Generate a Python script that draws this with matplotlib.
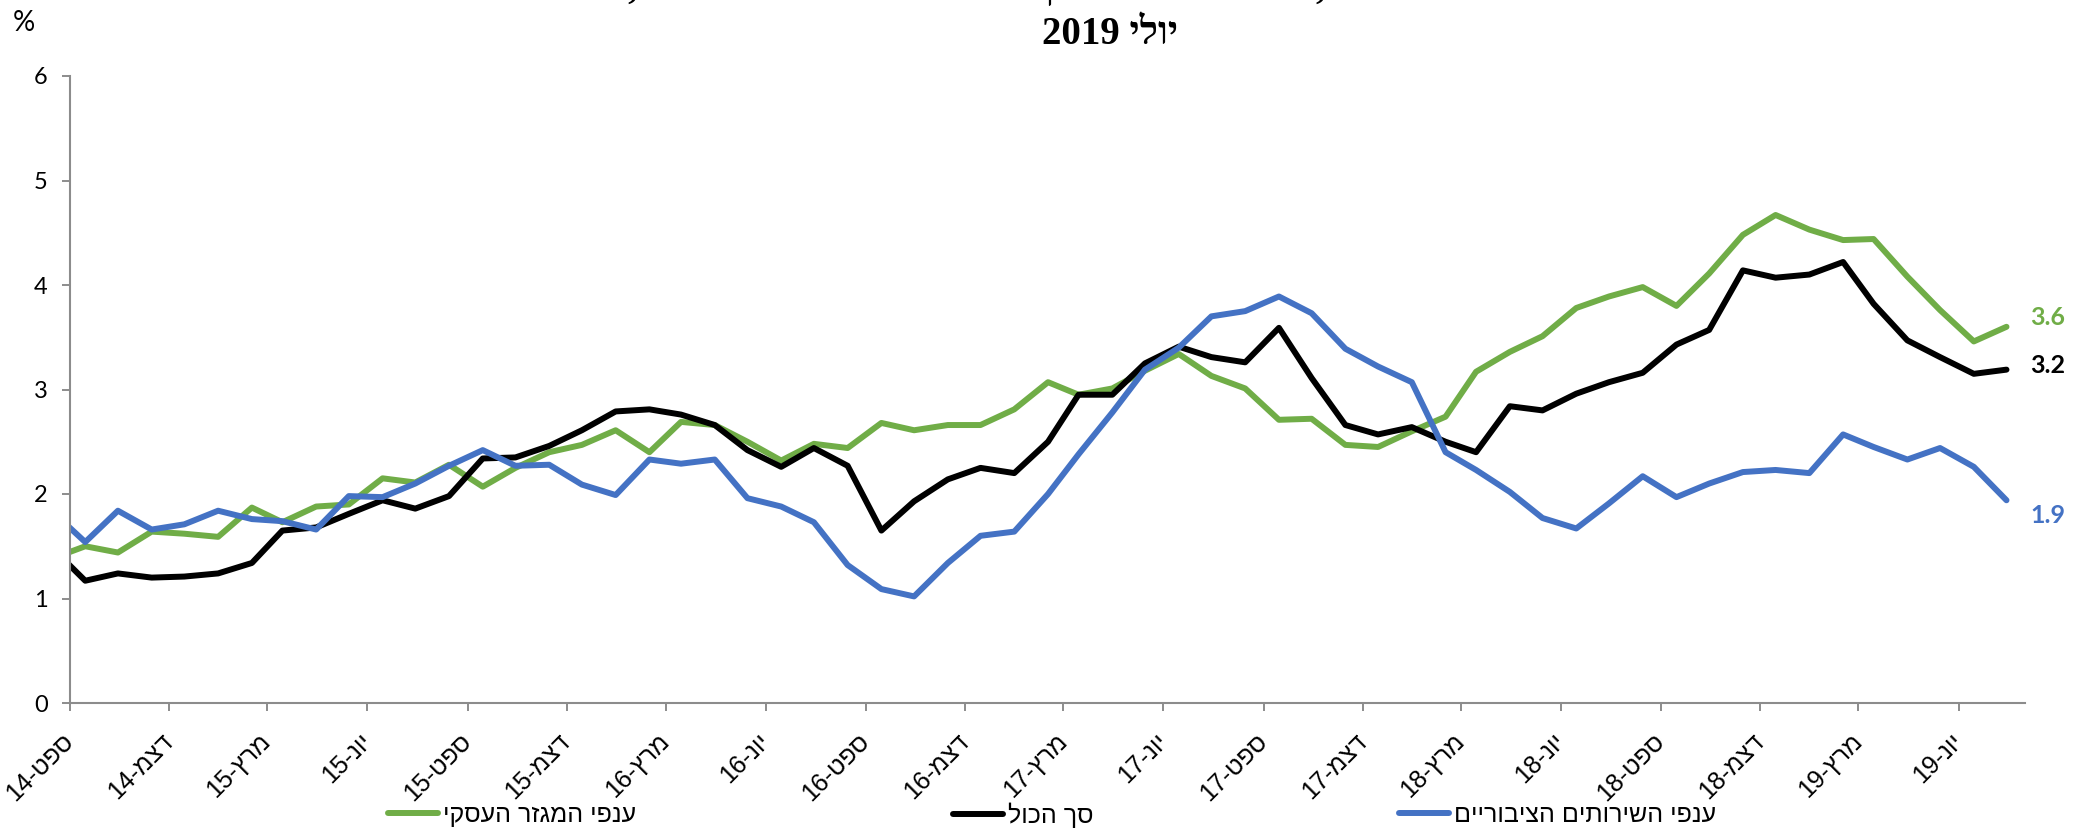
import re

import matplotlib
matplotlib.use('Agg')
import matplotlib.pyplot as plt
import matplotlib.transforms as mtransforms
import pandas as pd
from matplotlib.lines import Line2D

# monthly observations (mid-month), Aug-14 .. Jul-19
months = pd.date_range('2014-08-01', periods=60, freq='MS') + pd.Timedelta(days=14)

business = [1.38, 1.50, 1.44, 1.64, 1.62, 1.59, 1.87, 1.73, 1.88, 1.90,
            2.15, 2.11, 2.28, 2.07, 2.25, 2.40, 2.47, 2.61, 2.40, 2.69,
            2.66, 2.50, 2.32, 2.48, 2.44, 2.68, 2.61, 2.66, 2.66, 2.81,
            3.07, 2.95, 3.01, 3.18, 3.34, 3.13, 3.01, 2.71, 2.72, 2.47,
            2.45, 2.60, 2.74, 3.17, 3.36, 3.51, 3.78, 3.89, 3.98, 3.80,
            4.11, 4.48, 4.67, 4.53, 4.43, 4.44, 4.08, 3.76, 3.46, 3.60]

total = [1.49, 1.17, 1.24, 1.20, 1.21, 1.24, 1.34, 1.65, 1.68, 1.81,
         1.94, 1.86, 1.98, 2.34, 2.35, 2.46, 2.61, 2.79, 2.81, 2.76,
         2.66, 2.42, 2.26, 2.44, 2.27, 1.65, 1.93, 2.14, 2.25, 2.20,
         2.50, 2.95, 2.95, 3.25, 3.41, 3.31, 3.26, 3.59, 3.11, 2.66,
         2.57, 2.64, 2.50, 2.40, 2.84, 2.80, 2.96, 3.07, 3.16, 3.43,
         3.57, 4.14, 4.07, 4.10, 4.22, 3.82, 3.47, 3.31, 3.15, 3.19]

public = [1.84, 1.54, 1.84, 1.66, 1.71, 1.84, 1.76, 1.74, 1.66, 1.98,
          1.97, 2.10, 2.27, 2.42, 2.27, 2.28, 2.09, 1.99, 2.33, 2.29,
          2.33, 1.96, 1.88, 1.73, 1.32, 1.09, 1.02, 1.34, 1.60, 1.64,
          2.00, 2.38, 2.78, 3.19, 3.40, 3.70, 3.75, 3.89, 3.73, 3.39,
          3.22, 3.07, 2.40, 2.23, 2.02, 1.77, 1.67, 1.91, 2.17, 1.97,
          2.10, 2.21, 2.23, 2.20, 2.57, 2.45, 2.33, 2.44, 2.26, 1.94]

tick_dates = pd.date_range('2014-09-01', '2019-06-01', freq='3MS')
tick_labels = ['ספט-14', 'דצמ-14', 'מרץ-15', 'יונ-15', 'ספט-15', 'דצמ-15',
               'מרץ-16', 'יונ-16', 'ספט-16', 'דצמ-16', 'מרץ-17', 'יונ-17',
               'ספט-17', 'דצמ-17', 'מרץ-18', 'יונ-18', 'ספט-18', 'דצמ-18',
               'מרץ-19', 'יונ-19']

series_names = ['ענפי המגזר העסקי', 'סך הכול', 'ענפי השירותים הציבוריים']
title_line1 = 'שיעור השינוי השנתי בשכר הממוצע, ענפי המגזר העסקי וענפי השירותים הציבוריים, ספטמבר 2014 עד'
title_line2 = 'יולי 2019'

GREEN = '#70AD47'
BLACK = '#000000'
BLUE = '#4472C4'
AXIS_GRAY = '#8c8c8c'
HEB = ['Liberation Sans', 'DejaVu Sans']
HEB_SERIF = ['Liberation Serif', 'DejaVu Serif', 'DejaVu Sans']
NUM = ['Lato', 'DejaVu Sans']


def rtl(s):
    """Visual (left-to-right) order for a Hebrew string, digits kept as-is."""
    return re.sub(r'[0-9]+', lambda m: m.group()[::-1], s[::-1])


W, H = 2092, 831
fig = plt.figure(figsize=(W / 100, H / 100), dpi=100)
ax = fig.add_axes([70 / W, 1 - 703 / H, (2025 - 70) / W, (703 - 76) / H])

lw = 4.3
ax.plot(months, business, color=GREEN, linewidth=lw, solid_joinstyle='round',
        solid_capstyle='round')
ax.plot(months, total, color=BLACK, linewidth=lw, solid_joinstyle='round',
        solid_capstyle='round')
ax.plot(months, public, color=BLUE, linewidth=lw, solid_joinstyle='round',
        solid_capstyle='round')

ax.set_xlim(pd.Timestamp('2014-09-01'), pd.Timestamp('2019-08-01'))
ax.set_ylim(0, 6)
ax.set_yticks(range(0, 7))

ax.set_xticks(tick_dates)
ax.set_xticklabels([rtl(t) for t in tick_labels], rotation=45, ha='right',
                   va='center', rotation_mode='anchor', family=HEB, fontsize=18)
shift = mtransforms.ScaledTranslation(12 / 100, 0, fig.dpi_scale_trans)
for lab in ax.get_xticklabels():
    lab.set_transform(lab.get_transform() + shift)

for lab in ax.get_yticklabels():
    lab.set_family(NUM)
    lab.set_fontsize(17)

ax.tick_params(axis='x', length=6, width=1.4, color=AXIS_GRAY, pad=19)
ax.tick_params(axis='y', length=6, width=1.4, color=AXIS_GRAY, pad=10)
for side in ['top', 'right']:
    ax.spines[side].set_visible(False)
for side in ['left', 'bottom']:
    ax.spines[side].set_color(AXIS_GRAY)
    ax.spines[side].set_linewidth(1.5)

# end-of-line value labels
for vals, color, dy in [(business, GREEN, 7), (total, BLACK, 3), (public, BLUE, -11)]:
    ax.annotate(f'{vals[-1]:.1f}', xy=(months[-1], vals[-1]),
                xytext=(17, dy), textcoords='offset points', ha='left',
                va='center', color=color, fontsize=18, fontweight='bold',
                family=NUM, annotation_clip=False)

# titles and unit; the first title line sits above the canvas, only descenders show
fig.text(1100 / W, 1 + 2 / H, rtl(title_line1), ha='center', va='baseline',
         fontsize=28, fontweight='bold', family=HEB_SERIF)
fig.text(1110 / W, 1 - 34 / H, rtl(title_line2), ha='center', va='center',
         fontsize=28, fontweight='bold', family=HEB_SERIF)
fig.text(24 / W, 1 - 23 / H, '%', ha='center', va='center', fontsize=20,
         family=NUM)

# legend entries placed separately, as in the source
for name, color, x0 in [(series_names[0], GREEN, 388),
                        (series_names[1], BLACK, 953),
                        (series_names[2], BLUE, 1399)]:
    handle = Line2D([], [], color=color, linewidth=lw, solid_capstyle='round')
    fig.legend([handle], [rtl(name)], loc='center left',
               bbox_to_anchor=(x0 / W, 1 - 815 / H), frameon=False,
               borderpad=0, borderaxespad=0, handlelength=2.0,
               handletextpad=0.2, prop={'family': HEB, 'size': 18})

fig.savefig('out.png', dpi=100)
plt.close(fig)
